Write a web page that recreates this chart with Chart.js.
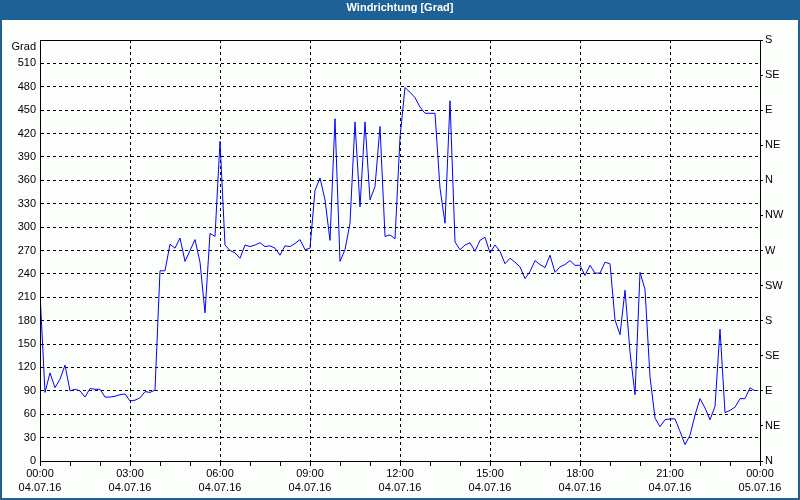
<!DOCTYPE html>
<html>
<head>
<meta charset="utf-8">
<script src="https://cdn.jsdelivr.net/npm/chart.js@4"></script>
<style>
    body { margin: 0; }
    #frame { width: 796px; height: 478px; background: #1e6196; padding: 20px 2px 2px 2px; position: relative; }
    #title { position: absolute; left: 0; top: 1px; width: 800px; height: 20px; line-height: 20px; text-align: center;
             color: #fff; font: bold 11px "Liberation Sans", sans-serif; }
    #box { width: 796px; height: 478px; background: #fcfefc; }
</style>
</head>
<body>
<div id="frame">
    <div id="title">Windrichtung [Grad]</div>
    <div id="box"><canvas id="chart" width="796" height="478"></canvas></div>
</div>
<script>
// 10 minute steps from 04.07.16 00:00 up to 23:50
const directions = [
    215, 88, 113, 94, 105, 123, 90, 92, 90, 82, 93, 92, 92, 82, 82, 83, 85, 86, 77, 78,
    81, 89, 88, 91, 244, 244, 278, 273, 286, 256, 270, 284, 255, 190, 292, 288, 410, 277, 270, 267,
    260, 277, 275, 277, 280, 275, 276, 273, 264, 276, 275, 279, 284, 271, 273, 347, 363, 335, 283, 439,
    256, 271, 305, 435, 326, 435, 335, 352, 429, 288, 290, 285, 415, 479, 473, 466, 454, 446, 446, 446,
    350, 305, 462, 281, 271, 277, 280, 269, 283, 287, 267, 277, 269, 253, 260, 255, 249, 234, 243, 257,
    252, 248, 264, 242, 249, 252, 257, 251, 251, 238, 251, 241, 241, 255, 253, 181, 162, 219, 140, 85,
    242, 220, 108, 55, 44, 53, 54, 54, 38, 21, 33, 59, 80, 68, 53, 70, 169, 62, 65, 69,
    80, 80, 94, 90
];
const timeLabels = ['00:00', '03:00', '06:00', '09:00', '12:00', '15:00', '18:00', '21:00', '00:00'];
const dateLabels = ['04.07.16', '04.07.16', '04.07.16', '04.07.16', '04.07.16', '04.07.16', '04.07.16', '04.07.16', '05.07.16'];
const compass = ['N', 'NE', 'E', 'SE', 'S', 'SW', 'W', 'NW', 'N', 'NE', 'E', 'SE', 'S'];

const font = { family: '"Liberation Sans", sans-serif', size: 11 };

const framePlugin = {
    id: 'frame',
    afterDraw(chart) {
        const a = chart.chartArea;
        const ctx = chart.ctx;
        ctx.save();
        ctx.strokeStyle = '#000';
        ctx.lineWidth = 1;
        ctx.strokeRect(Math.round(a.left) + 0.5, Math.round(a.top) + 0.5,
            Math.round(a.right - a.left), Math.round(a.bottom - a.top));
        ctx.restore();
    }
};

function wind_chart(canvas) {
    const data = {
        datasets: [{
            data: directions.map((v, i) => ({x: i, y: v})),
            borderColor: '#0000ff',
            borderWidth: 1,
            pointRadius: 0,
            tension: 0,
            fill: false
        }]
    };
    const config = {
        type: 'line',
        data: data,
        plugins: [framePlugin],
        options: {
            responsive: false,
            animation: false,
            layout: { padding: { top: 20, left: 0, right: 0, bottom: 0 } },
            plugins: { legend: { display: false }, tooltip: { enabled: false } },
            scales: {
                x: {
                    type: 'linear',
                    min: 0,
                    max: 144,
                    afterFit: (s) => { s.height = 37; },
                    afterBuildTicks: (s) => {
                        s.ticks = [];
                        for (let v = 0; v <= 144; v += 6) s.ticks.push({value: v});
                    },
                    ticks: {
                        autoSkip: false,
                        maxRotation: 0,
                        padding: 1,
                        color: '#000',
                        font: { ...font, lineHeight: 14 / 11 },
                        callback: (v) => v % 18 === 0 ? [timeLabels[v / 18], dateLabels[v / 18]] : ''
                    },
                    grid: {
                        color: (c) => (c.tick && c.tick.value % 18 === 0 && c.tick.value > 0 && c.tick.value < 144) ? '#000' : 'rgba(0,0,0,0)',
                        tickColor: '#000',
                        tickLength: 5,
                        tickBorderDash: []
                    },
                    border: { color: '#000', dash: [3, 3] }
                },
                y: {
                    position: 'left',
                    min: 0,
                    max: 540,
                    afterFit: (s) => { s.width = 38; },
                    ticks: {
                        stepSize: 30,
                        autoSkip: false,
                        padding: 4,
                        color: '#000',
                        font: { ...font, lineHeight: 14 / 11 },
                        callback: (v) => v === 540 ? ['', 'Grad'] : v
                    },
                    grid: {
                        drawTicks: false,
                        color: (c) => (c.tick && c.tick.value > 0 && c.tick.value < 540) ? '#000' : 'rgba(0,0,0,0)'
                    },
                    border: { color: '#000', dash: [3, 3] }
                },
                y2: {
                    position: 'right',
                    min: 0,
                    max: 540,
                    afterFit: (s) => { s.width = 38; },
                    ticks: {
                        stepSize: 45,
                        autoSkip: false,
                        padding: 2,
                        color: '#000',
                        font: font,
                        callback: (v) => compass[v / 45]
                    },
                    grid: {
                        drawOnChartArea: false,
                        tickLength: 3,
                        tickColor: '#000'
                    },
                    border: { color: '#000' }
                }
            }
        }
    };
    const myChart = new Chart(
        canvas,
        config
    );
}

wind_chart(document.getElementById('chart'));
</script>
</body>
</html>
